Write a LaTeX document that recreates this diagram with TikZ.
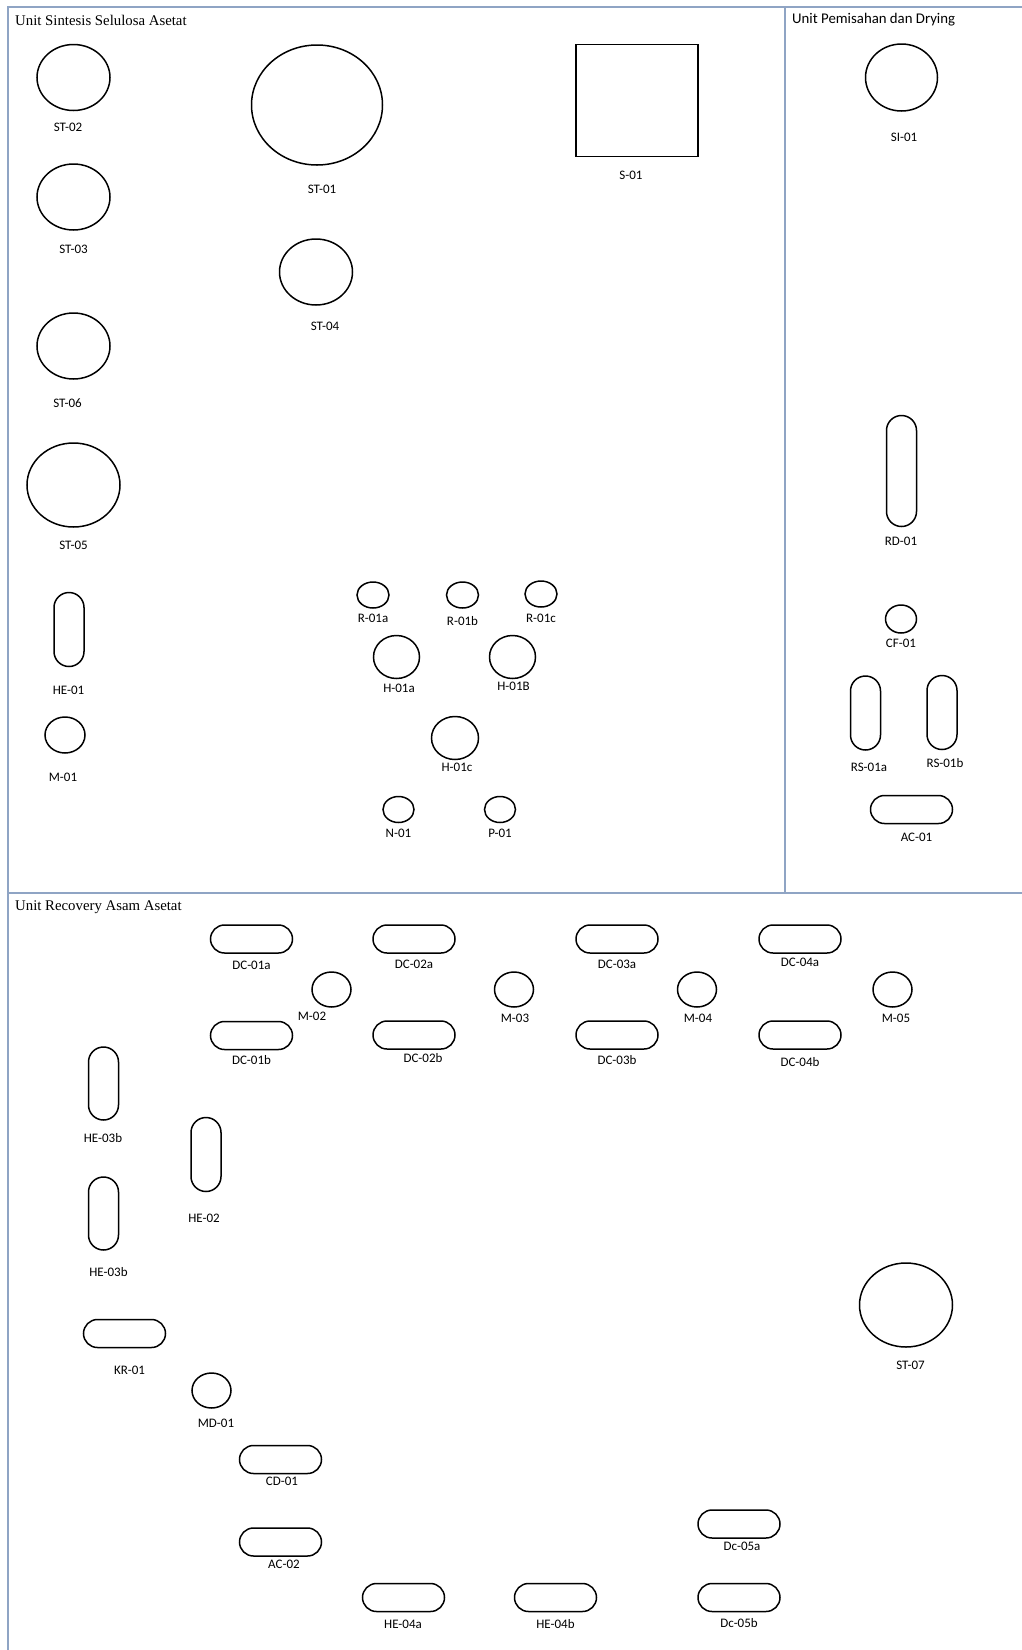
\documentclass[tikz,border=0pt]{standalone}
\usepackage{fontspec}
\setmainfont{Carlito}
\newfontfamily\titlefont{Liberation Serif}
\usetikzlibrary{shapes.geometric,positioning}

\definecolor{framec}{RGB}{143,164,196}

\begin{document}
\begin{tikzpicture}[x=1pt,y=-1pt,
    tank/.style 2 args={draw,ellipse,line width=1.5pt,inner sep=0pt,minimum width=#1,minimum height=#2},
    hcol/.style={draw,rounded corners=14pt,line width=1.5pt,inner sep=0pt,minimum width=82pt,minimum height=28pt},
    vcol/.style={draw,rounded corners=15pt,line width=1.5pt,inner sep=0pt,minimum width=30pt,minimum height=#1},
    lbl/.style={font=\fontsize{13}{15}\selectfont,inner sep=0pt},
    ttl/.style={font=\titlefont\fontsize{14.8}{17}\selectfont,anchor=west,inner sep=0pt},
    frame/.style={draw=framec,line width=1.3pt}]
    \useasboundingbox (0,0) rectangle (1022,1650);
    \fill[white] (0,0) rectangle (1022,1650);
    % panels
    \draw[frame] (8,1650) -- (8,7) -- (1022,7);
    \draw[frame] (785,7) -- (785,893);
    \draw[frame] (8,893) -- (1022,893);
    \node[ttl] (t1) at (15,20) {Unit Sintesis Selulosa Asetat};
    \node[ttl,font=\fontsize{14.8}{17}\selectfont] (t2) at (792,20) {Unit Pemisahan dan Drying};
    \node[ttl] (t3) at (15,907) {Unit Recovery Asam Asetat};

    % Unit Sintesis Selulosa Asetat
    \node[tank={73pt}{66pt}] (st02) at (73.5,77.5) {};
    \node[lbl] (st02l) at (68,127) {ST-02};
    \node[tank={131pt}{120pt}] (st01) at (317,105) {};
    \node[lbl] (st01l) at (322,189) {ST-01};
    \node[tank={73pt}{66pt}] (st03) at (73.5,197) {};
    \node[lbl] (st03l) at (73.5,249) {ST-03};
    \node[tank={73pt}{66pt}] (st04) at (316,272) {};
    \node[lbl] (st04l) at (325,326) {ST-04};
    \node[tank={73pt}{66pt}] (st06) at (73.5,346) {};
    \node[lbl] (st06l) at (67.5,403) {ST-06};
    \node[tank={93pt}{84pt}] (st05) at (73.5,485) {};
    \node[lbl] (st05l) at (73.5,545) {ST-05};
    \node[draw,line width=1.5pt,minimum width=122pt,minimum height=112pt,inner sep=0pt] (s01) at (637,100.5) {};
    \node[lbl] (s01l) at (631,175) {S-01};
    \node[vcol=74pt] (he01) at (69,629.5) {};
    \node[lbl] (he01l) at (68.5,690) {HE-01};
    \node[tank={40pt}{36pt}] (m01) at (65,735) {};
    \node[lbl] (m01l) at (63,777) {M-01};

    \node[tank={32pt}{26pt}] (r01a) at (373,595) {};
    \node[lbl] (r01al) at (373,618) {R-01a};
    \node[tank={32pt}{26pt}] (r01b) at (462.5,595) {};
    \node[lbl] (r01bl) at (462.5,621) {R-01b};
    \node[tank={32pt}{26pt}] (r01c) at (541,594) {};
    \node[lbl] (r01cl) at (541,618) {R-01c};
    \node[tank={46pt}{43pt}] (h01a) at (396.5,657) {};
    \node[lbl] (h01al) at (399,688) {H-01a};
    \node[tank={46pt}{43pt}] (h01b) at (512.5,657) {};
    \node[lbl] (h01bl) at (513.5,686) {H-01B};
    \node[tank={47pt}{43pt}] (h01c) at (455,738) {};
    \node[lbl] (h01cl) at (457,767) {H-01c};
    \node[tank={31pt}{26pt}] (n01) at (398.5,809.5) {};
    \node[lbl] (n01l) at (398.5,833) {N-01};
    \node[tank={31pt}{26pt}] (p01) at (500,809.5) {};
    \node[lbl] (p01l) at (500,833) {P-01};

    % Unit Pemisahan dan Drying
    \node[tank={72pt}{67pt}] (si01) at (901.5,77.5) {};
    \node[lbl] (si01l) at (904,137.5) {SI-01};
    \node[vcol=111pt] (rd01) at (901.5,471) {};
    \node[lbl] (rd01l) at (901,541) {RD-01};
    \node[tank={31pt}{28pt}] (cf01) at (901,619) {};
    \node[lbl] (cf01l) at (901,643) {CF-01};
    \node[vcol=74pt] (rs01a) at (865.5,713) {};
    \node[lbl] (rs01al) at (869,767) {RS-01a};
    \node[vcol=74pt] (rs01b) at (942,712.5) {};
    \node[lbl] (rs01bl) at (945,763) {RS-01b};
    \node[hcol] (ac01) at (911.5,809.5) {};
    \node[lbl] (ac01l) at (916.5,837) {AC-01};

    % Unit Recovery Asam Asetat
    \node[hcol] (dc01a) at (251.5,939) {};
    \node[lbl] (dc01al) at (251.5,965) {DC-01a};
    \node[hcol] (dc01b) at (251.5,1035.5) {};
    \node[lbl] (dc01bl) at (251.5,1060) {DC-01b};
    \node[tank={39pt}{35pt}] (m02) at (331.5,989.5) {};
    \node[lbl] (m02l) at (312,1016) {M-02};
    \node[hcol] (dc02a) at (414,939) {};
    \node[lbl] (dc02al) at (414,964) {DC-02a};
    \node[hcol] (dc02b) at (414,1035) {};
    \node[lbl] (dc02bl) at (423,1058) {DC-02b};
    \node[tank={39pt}{35pt}] (m03) at (514,989.5) {};
    \node[lbl] (m03l) at (515,1018) {M-03};
    \node[hcol] (dc03a) at (617,939) {};
    \node[lbl] (dc03al) at (617,964) {DC-03a};
    \node[hcol] (dc03b) at (617,1035) {};
    \node[lbl] (dc03bl) at (617,1060) {DC-03b};
    \node[tank={39pt}{35pt}] (m04) at (697,989.5) {};
    \node[lbl] (m04l) at (698,1018) {M-04};
    \node[hcol] (dc04a) at (800,939) {};
    \node[lbl] (dc04al) at (800,962) {DC-04a};
    \node[hcol] (dc04b) at (800,1035) {};
    \node[lbl] (dc04bl) at (800,1062) {DC-04b};
    \node[tank={39pt}{35pt}] (m05) at (892.5,989.5) {};
    \node[lbl] (m05l) at (896,1018) {M-05};

    \node[vcol=73pt] (he03b1) at (103.5,1083.5) {};
    \node[lbl] (he03b1l) at (103,1138) {HE-03b};
    \node[vcol=74pt] (he02) at (206,1154.5) {};
    \node[lbl] (he02l) at (204,1218) {HE-02};
    \node[vcol=73pt] (he03b2) at (103.5,1213.5) {};
    \node[lbl] (he03b2l) at (108.5,1272.5) {HE-03b};
    \node[hcol] (kr01) at (124.5,1333.5) {};
    \node[lbl] (kr01l) at (129.5,1370.5) {KR-01};
    \node[tank={93pt}{84pt}] (st07) at (906,1305) {};
    \node[lbl] (st07l) at (910.5,1365) {ST-07};
    \node[tank={39pt}{35pt}] (md01) at (211.5,1390.5) {};
    \node[lbl] (md01l) at (216,1423) {MD-01};
    \node[hcol] (cd01) at (280.5,1459.5) {};
    \node[lbl] (cd01l) at (282,1481) {CD-01};
    \node[hcol] (ac02) at (280.5,1542) {};
    \node[lbl] (ac02l) at (284,1564) {AC-02};
    \node[hcol] (he04a) at (403.5,1597.5) {};
    \node[lbl] (he04al) at (403,1624) {HE-04a};
    \node[hcol] (he04b) at (555.5,1597.5) {};
    \node[lbl] (he04bl) at (555.5,1624) {HE-04b};
    \node[hcol] (dc05a) at (739,1524) {};
    \node[lbl] (dc05al) at (742,1546) {Dc-05a};
    \node[hcol] (dc05b) at (739,1597.5) {};
    \node[lbl] (dc05bl) at (739,1623) {Dc-05b};
\end{tikzpicture}
\end{document}
